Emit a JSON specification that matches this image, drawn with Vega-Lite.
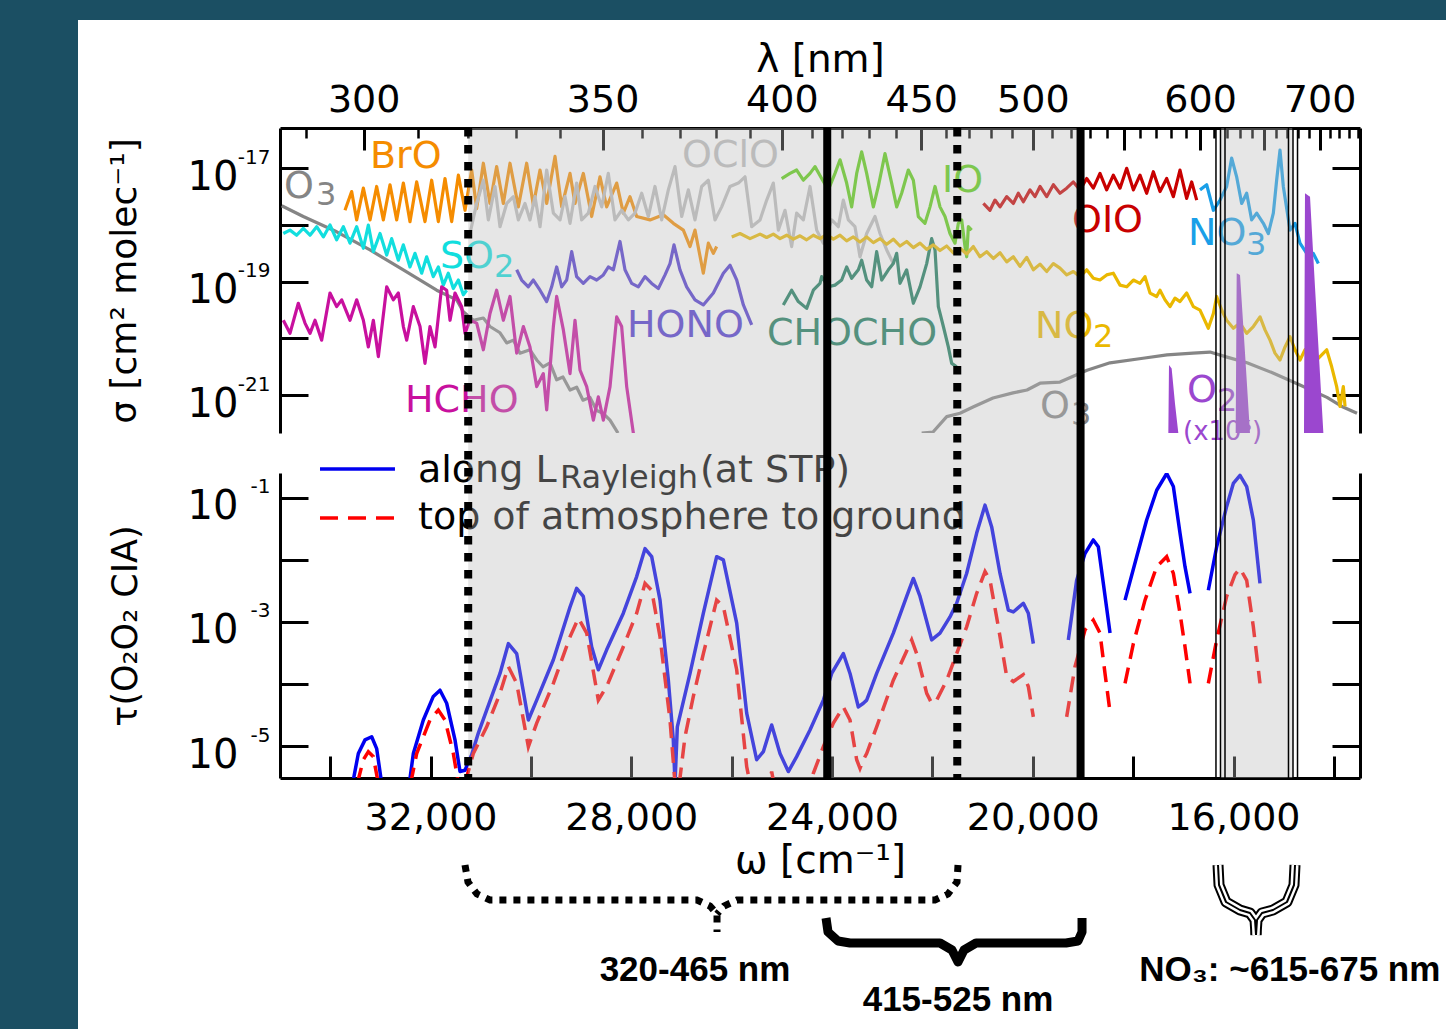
{
"$schema": "https://vega.github.io/schema/vega-lite/v6.json",
"background": "white",
"padding": 0,
"spacing": 0,
"bounds": "flush",
"config": {
  "view": {"stroke": null},
  "axis": {"grid": false, "labelFont": "DejaVu Sans", "titleFont": "DejaVu Sans", "labelColor": "#000", "titleColor": "#000", "tickColor": "#000", "domainColor": "#000", "tickWidth": 3, "domainWidth": 3, "titleFontWeight": "normal", "labelOverlap": false, "labelFlush": false, "labelBound": false, "labelFontSize": 38, "titleFontSize": 39},
  "text": {"font": "DejaVu Sans"}
},
"datasets": {
  "sigma": [
    {"sp":"O3","part":"a","w":34966,"ls":-17.66},{"sp":"O3","part":"a","w":34536,"ls":-17.85},{"sp":"O3","part":"a","w":33870,"ls":-18.12},{"sp":"O3","part":"a","w":33207,"ls":-18.44},{"sp":"O3","part":"a","w":32543,"ls":-18.79},{"sp":"O3","part":"a","w":31878,"ls":-19.15},{"sp":"O3","part":"a","w":31479,"ls":-19.32},{"sp":"O3","part":"a","w":31347,"ls":-19.53},{"sp":"O3","part":"a","w":31148,"ls":-19.68},{"sp":"O3","part":"a","w":30949,"ls":-19.64},{"sp":"O3","part":"a","w":30816,"ls":-19.79},{"sp":"O3","part":"a","w":30616,"ls":-19.90},{"sp":"O3","part":"a","w":30483,"ls":-20.08},{"sp":"O3","part":"a","w":30351,"ls":-20.03},{"sp":"O3","part":"a","w":30218,"ls":-20.26},{"sp":"O3","part":"a","w":30019,"ls":-20.20},{"sp":"O3","part":"a","w":29885,"ls":-20.38},{"sp":"O3","part":"a","w":29760,"ls":-20.50},{"sp":"O3","part":"a","w":29620,"ls":-20.43},{"sp":"O3","part":"a","w":29487,"ls":-20.73},{"sp":"O3","part":"a","w":29362,"ls":-20.68},{"sp":"O3","part":"a","w":29221,"ls":-20.91},{"sp":"O3","part":"a","w":29088,"ls":-20.86},{"sp":"O3","part":"a","w":28962,"ls":-21.09},{"sp":"O3","part":"a","w":28823,"ls":-21.04},{"sp":"O3","part":"a","w":28690,"ls":-21.27},{"sp":"O3","part":"a","w":28565,"ls":-21.32},{"sp":"O3","part":"a","w":28424,"ls":-21.44},{"sp":"O3","part":"a","w":28265,"ls":-21.67},
    {"sp":"O3","part":"b","w":22214,"ls":-21.67},{"sp":"O3","part":"b","w":21988,"ls":-21.65},{"sp":"O3","part":"b","w":21715,"ls":-21.38},{"sp":"O3","part":"b","w":21450,"ls":-21.32},{"sp":"O3","part":"b","w":21191,"ls":-21.21},{"sp":"O3","part":"b","w":20793,"ls":-21.05},{"sp":"O3","part":"b","w":20394,"ls":-20.96},{"sp":"O3","part":"b","w":20115,"ls":-20.91},{"sp":"O3","part":"b","w":19856,"ls":-20.79},{"sp":"O3","part":"b","w":19458,"ls":-20.77},{"sp":"O3","part":"b","w":18920,"ls":-20.56},{"sp":"O3","part":"b","w":18461,"ls":-20.43},{"sp":"O3","part":"b","w":17804,"ls":-20.35},{"sp":"O3","part":"b","w":17326,"ls":-20.29},{"sp":"O3","part":"b","w":16808,"ls":-20.26},{"sp":"O3","part":"b","w":16469,"ls":-20.24},{"sp":"O3","part":"b","w":16130,"ls":-20.33},{"sp":"O3","part":"b","w":15732,"ls":-20.43},{"sp":"O3","part":"b","w":15214,"ls":-20.61},{"sp":"O3","part":"b","w":14676,"ls":-20.82},{"sp":"O3","part":"b","w":14138,"ls":-21.04},{"sp":"O3","part":"b","w":13818,"ls":-21.21},{"sp":"O3","part":"b","w":13540,"ls":-21.32},
    {"sp":"BrO","w":33705,"ls":-17.74},{"sp":"BrO","w":33572,"ls":-17.41},{"sp":"BrO","w":33472,"ls":-17.91},{"sp":"BrO","w":33339,"ls":-17.35},{"sp":"BrO","w":33206,"ls":-17.91},{"sp":"BrO","w":33074,"ls":-17.32},{"sp":"BrO","w":32941,"ls":-17.91},{"sp":"BrO","w":32808,"ls":-17.29},{"sp":"BrO","w":32675,"ls":-17.91},{"sp":"BrO","w":32542,"ls":-17.26},{"sp":"BrO","w":32410,"ls":-17.94},{"sp":"BrO","w":32277,"ls":-17.24},{"sp":"BrO","w":32111,"ls":-17.94},{"sp":"BrO","w":31978,"ls":-17.21},{"sp":"BrO","w":31845,"ls":-17.94},{"sp":"BrO","w":31712,"ls":-17.18},{"sp":"BrO","w":31579,"ls":-17.94},{"sp":"BrO","w":31446,"ls":-17.12},{"sp":"BrO","w":31313,"ls":-17.74},{"sp":"BrO","w":31181,"ls":-17.03},{"sp":"BrO","w":31081,"ls":-17.71},{"sp":"BrO","w":30948,"ls":-16.91},{"sp":"BrO","w":30816,"ls":-17.62},{"sp":"BrO","w":30683,"ls":-16.97},{"sp":"BrO","w":30550,"ls":-17.62},{"sp":"BrO","w":30417,"ls":-16.91},{"sp":"BrO","w":30251,"ls":-17.68},{"sp":"BrO","w":30085,"ls":-16.91},{"sp":"BrO","w":29952,"ls":-17.65},{"sp":"BrO","w":29819,"ls":-17.03},{"sp":"BrO","w":29686,"ls":-17.62},{"sp":"BrO","w":29520,"ls":-16.79},{"sp":"BrO","w":29387,"ls":-17.68},{"sp":"BrO","w":29221,"ls":-17.09},{"sp":"BrO","w":29122,"ls":-17.62},{"sp":"BrO","w":28956,"ls":-17.09},{"sp":"BrO","w":28790,"ls":-17.85},{"sp":"BrO","w":28624,"ls":-17.15},{"sp":"BrO","w":28491,"ls":-17.68},{"sp":"BrO","w":28291,"ls":-17.26},{"sp":"BrO","w":28159,"ls":-17.79},{"sp":"BrO","w":28026,"ls":-17.50},{"sp":"BrO","w":27893,"ls":-17.85},{"sp":"BrO","w":27627,"ls":-17.91},{"sp":"BrO","w":27361,"ls":-17.82},{"sp":"BrO","w":27162,"ls":-17.97},{"sp":"BrO","w":26963,"ls":-18.09},{"sp":"BrO","w":26830,"ls":-18.38},{"sp":"BrO","w":26731,"ls":-18.09},{"sp":"BrO","w":26565,"ls":-18.85},{"sp":"BrO","w":26465,"ls":-18.32},{"sp":"BrO","w":26365,"ls":-18.50},{"sp":"BrO","w":26299,"ls":-18.38},
    {"sp":"SO2","w":34934,"ls":-18.15},{"sp":"SO2","w":34801,"ls":-18.09},{"sp":"SO2","w":34668,"ls":-18.18},{"sp":"SO2","w":34535,"ls":-18.06},{"sp":"SO2","w":34402,"ls":-18.18},{"sp":"SO2","w":34269,"ls":-18.03},{"sp":"SO2","w":34136,"ls":-18.21},{"sp":"SO2","w":34004,"ls":-18.00},{"sp":"SO2","w":33871,"ls":-18.26},{"sp":"SO2","w":33738,"ls":-18.03},{"sp":"SO2","w":33605,"ls":-18.32},{"sp":"SO2","w":33472,"ls":-18.03},{"sp":"SO2","w":33339,"ls":-18.41},{"sp":"SO2","w":33240,"ls":-18.00},{"sp":"SO2","w":33140,"ls":-18.47},{"sp":"SO2","w":33007,"ls":-18.15},{"sp":"SO2","w":32874,"ls":-18.53},{"sp":"SO2","w":32775,"ls":-18.24},{"sp":"SO2","w":32642,"ls":-18.62},{"sp":"SO2","w":32542,"ls":-18.35},{"sp":"SO2","w":32410,"ls":-18.74},{"sp":"SO2","w":32310,"ls":-18.50},{"sp":"SO2","w":32177,"ls":-18.85},{"sp":"SO2","w":32078,"ls":-18.56},{"sp":"SO2","w":31945,"ls":-18.91},{"sp":"SO2","w":31845,"ls":-18.74},{"sp":"SO2","w":31745,"ls":-19.06},{"sp":"SO2","w":31646,"ls":-18.85},{"sp":"SO2","w":31546,"ls":-19.12},{"sp":"SO2","w":31446,"ls":-18.97},{"sp":"SO2","w":31347,"ls":-19.23},{"sp":"SO2","w":31280,"ls":-19.15},
    {"sp":"HCHO","w":34934,"ls":-19.68},{"sp":"HCHO","w":34801,"ls":-19.91},{"sp":"HCHO","w":34635,"ls":-19.38},{"sp":"HCHO","w":34502,"ls":-19.73},{"sp":"HCHO","w":34402,"ls":-19.91},{"sp":"HCHO","w":34302,"ls":-19.68},{"sp":"HCHO","w":34170,"ls":-20.03},{"sp":"HCHO","w":34004,"ls":-19.20},{"sp":"HCHO","w":33871,"ls":-19.44},{"sp":"HCHO","w":33771,"ls":-19.32},{"sp":"HCHO","w":33605,"ls":-19.68},{"sp":"HCHO","w":33472,"ls":-19.32},{"sp":"HCHO","w":33339,"ls":-19.68},{"sp":"HCHO","w":33240,"ls":-20.15},{"sp":"HCHO","w":33140,"ls":-19.68},{"sp":"HCHO","w":33040,"ls":-20.32},{"sp":"HCHO","w":32874,"ls":-19.09},{"sp":"HCHO","w":32742,"ls":-19.32},{"sp":"HCHO","w":32642,"ls":-19.20},{"sp":"HCHO","w":32542,"ls":-19.79},{"sp":"HCHO","w":32476,"ls":-20.03},{"sp":"HCHO","w":32343,"ls":-19.44},{"sp":"HCHO","w":32210,"ls":-19.79},{"sp":"HCHO","w":32111,"ls":-20.44},{"sp":"HCHO","w":32011,"ls":-19.79},{"sp":"HCHO","w":31911,"ls":-20.15},{"sp":"HCHO","w":31779,"ls":-19.09},{"sp":"HCHO","w":31679,"ls":-19.15},{"sp":"HCHO","w":31612,"ls":-19.68},{"sp":"HCHO","w":31513,"ls":-19.20},{"sp":"HCHO","w":31380,"ls":-19.44},{"sp":"HCHO","w":31314,"ls":-19.91},{"sp":"HCHO","w":31214,"ls":-19.68},{"sp":"HCHO","w":31081,"ls":-19.73},{"sp":"HCHO","w":30948,"ls":-20.20},{"sp":"HCHO","w":30816,"ls":-19.56},{"sp":"HCHO","w":30683,"ls":-19.15},{"sp":"HCHO","w":30550,"ls":-19.68},{"sp":"HCHO","w":30417,"ls":-19.26},{"sp":"HCHO","w":30284,"ls":-20.26},{"sp":"HCHO","w":30151,"ls":-19.79},{"sp":"HCHO","w":30019,"ls":-20.15},{"sp":"HCHO","w":29885,"ls":-20.85},{"sp":"HCHO","w":29753,"ls":-20.62},{"sp":"HCHO","w":29686,"ls":-21.26},{"sp":"HCHO","w":29553,"ls":-19.79},{"sp":"HCHO","w":29487,"ls":-19.26},{"sp":"HCHO","w":29354,"ls":-19.85},{"sp":"HCHO","w":29221,"ls":-20.62},{"sp":"HCHO","w":29122,"ls":-19.68},{"sp":"HCHO","w":29022,"ls":-20.56},{"sp":"HCHO","w":28889,"ls":-20.85},{"sp":"HCHO","w":28756,"ls":-21.44},{"sp":"HCHO","w":28657,"ls":-21.03},{"sp":"HCHO","w":28557,"ls":-21.44},{"sp":"HCHO","w":28424,"ls":-20.85},{"sp":"HCHO","w":28291,"ls":-19.62},{"sp":"HCHO","w":28192,"ls":-19.79},{"sp":"HCHO","w":28092,"ls":-20.85},{"sp":"HCHO","w":27959,"ls":-21.67},
    {"sp":"OClO","w":31214,"ls":-18.15},{"sp":"OClO","w":31081,"ls":-17.62},{"sp":"OClO","w":30948,"ls":-17.21},{"sp":"OClO","w":30849,"ls":-17.91},{"sp":"OClO","w":30716,"ls":-17.32},{"sp":"OClO","w":30616,"ls":-18.03},{"sp":"OClO","w":30483,"ls":-17.62},{"sp":"OClO","w":30350,"ls":-17.50},{"sp":"OClO","w":30251,"ls":-17.91},{"sp":"OClO","w":30118,"ls":-17.62},{"sp":"OClO","w":30019,"ls":-17.91},{"sp":"OClO","w":29919,"ls":-17.50},{"sp":"OClO","w":29819,"ls":-18.03},{"sp":"OClO","w":29686,"ls":-17.03},{"sp":"OClO","w":29553,"ls":-17.79},{"sp":"OClO","w":29420,"ls":-17.91},{"sp":"OClO","w":29321,"ls":-17.50},{"sp":"OClO","w":29221,"ls":-17.97},{"sp":"OClO","w":29089,"ls":-17.26},{"sp":"OClO","w":28989,"ls":-17.91},{"sp":"OClO","w":28856,"ls":-17.79},{"sp":"OClO","w":28723,"ls":-17.32},{"sp":"OClO","w":28590,"ls":-17.68},{"sp":"OClO","w":28458,"ls":-17.09},{"sp":"OClO","w":28325,"ls":-17.91},{"sp":"OClO","w":28192,"ls":-17.74},{"sp":"OClO","w":28059,"ls":-17.91},{"sp":"OClO","w":27926,"ls":-17.79},{"sp":"OClO","w":27793,"ls":-17.44},{"sp":"OClO","w":27660,"ls":-17.85},{"sp":"OClO","w":27528,"ls":-17.32},{"sp":"OClO","w":27395,"ls":-17.91},{"sp":"OClO","w":27262,"ls":-17.38},{"sp":"OClO","w":27129,"ls":-16.97},{"sp":"OClO","w":26996,"ls":-17.85},{"sp":"OClO","w":26863,"ls":-17.38},{"sp":"OClO","w":26731,"ls":-17.91},{"sp":"OClO","w":26598,"ls":-17.32},{"sp":"OClO","w":26465,"ls":-17.21},{"sp":"OClO","w":26332,"ls":-17.91},{"sp":"OClO","w":26199,"ls":-17.68},{"sp":"OClO","w":26033,"ls":-17.32},{"sp":"OClO","w":25867,"ls":-17.26},{"sp":"OClO","w":25734,"ls":-17.15},{"sp":"OClO","w":25601,"ls":-18.03},{"sp":"OClO","w":25435,"ls":-17.91},{"sp":"OClO","w":25302,"ls":-17.56},{"sp":"OClO","w":25170,"ls":-17.26},{"sp":"OClO","w":25070,"ls":-18.09},{"sp":"OClO","w":24937,"ls":-17.74},{"sp":"OClO","w":24805,"ls":-18.38},{"sp":"OClO","w":24705,"ls":-17.79},{"sp":"OClO","w":24572,"ls":-17.91},{"sp":"OClO","w":24439,"ls":-17.32},{"sp":"OClO","w":24306,"ls":-18.09},{"sp":"OClO","w":24173,"ls":-18.32},{"sp":"OClO","w":24007,"ls":-17.91},{"sp":"OClO","w":23875,"ls":-18.03},{"sp":"OClO","w":23775,"ls":-17.56},{"sp":"OClO","w":23675,"ls":-17.91},{"sp":"OClO","w":23543,"ls":-18.03},{"sp":"OClO","w":23443,"ls":-18.56},{"sp":"OClO","w":23310,"ls":-18.15},{"sp":"OClO","w":23144,"ls":-17.85},{"sp":"OClO","w":23044,"ls":-18.15},{"sp":"OClO","w":22911,"ls":-18.44},{"sp":"OClO","w":22779,"ls":-18.68},
    {"sp":"HONO","w":30284,"ls":-18.79},{"sp":"HONO","w":30185,"ls":-18.97},{"sp":"HONO","w":30052,"ls":-19.09},{"sp":"HONO","w":29952,"ls":-18.97},{"sp":"HONO","w":29819,"ls":-19.15},{"sp":"HONO","w":29686,"ls":-19.35},{"sp":"HONO","w":29587,"ls":-19.09},{"sp":"HONO","w":29487,"ls":-18.74},{"sp":"HONO","w":29387,"ls":-19.09},{"sp":"HONO","w":29288,"ls":-18.97},{"sp":"HONO","w":29188,"ls":-18.47},{"sp":"HONO","w":29089,"ls":-18.91},{"sp":"HONO","w":28956,"ls":-19.03},{"sp":"HONO","w":28823,"ls":-18.91},{"sp":"HONO","w":28690,"ls":-18.97},{"sp":"HONO","w":28557,"ls":-18.88},{"sp":"HONO","w":28458,"ls":-18.74},{"sp":"HONO","w":28358,"ls":-18.79},{"sp":"HONO","w":28225,"ls":-18.29},{"sp":"HONO","w":28126,"ls":-18.79},{"sp":"HONO","w":27993,"ls":-19.03},{"sp":"HONO","w":27860,"ls":-19.09},{"sp":"HONO","w":27727,"ls":-18.91},{"sp":"HONO","w":27594,"ls":-19.03},{"sp":"HONO","w":27461,"ls":-19.12},{"sp":"HONO","w":27328,"ls":-18.88},{"sp":"HONO","w":27229,"ls":-18.68},{"sp":"HONO","w":27149,"ls":-18.35},{"sp":"HONO","w":27030,"ls":-18.79},{"sp":"HONO","w":26897,"ls":-19.09},{"sp":"HONO","w":26731,"ls":-19.32},{"sp":"HONO","w":26565,"ls":-19.41},{"sp":"HONO","w":26365,"ls":-19.20},{"sp":"HONO","w":26166,"ls":-18.85},{"sp":"HONO","w":26033,"ls":-18.71},{"sp":"HONO","w":25900,"ls":-18.97},{"sp":"HONO","w":25767,"ls":-19.41},{"sp":"HONO","w":25601,"ls":-19.76},
    {"sp":"IO","w":25004,"ls":-17.18},{"sp":"IO","w":24838,"ls":-17.09},{"sp":"IO","w":24705,"ls":-17.03},{"sp":"IO","w":24572,"ls":-17.21},{"sp":"IO","w":24439,"ls":-17.09},{"sp":"IO","w":24340,"ls":-16.97},{"sp":"IO","w":24207,"ls":-17.18},{"sp":"IO","w":24074,"ls":-17.38},{"sp":"IO","w":23941,"ls":-17.09},{"sp":"IO","w":23841,"ls":-16.85},{"sp":"IO","w":23709,"ls":-17.26},{"sp":"IO","w":23609,"ls":-17.68},{"sp":"IO","w":23509,"ls":-17.09},{"sp":"IO","w":23410,"ls":-16.71},{"sp":"IO","w":23310,"ls":-17.09},{"sp":"IO","w":23177,"ls":-17.68},{"sp":"IO","w":23078,"ls":-17.32},{"sp":"IO","w":22945,"ls":-16.74},{"sp":"IO","w":22812,"ls":-17.26},{"sp":"IO","w":22712,"ls":-17.68},{"sp":"IO","w":22613,"ls":-17.44},{"sp":"IO","w":22480,"ls":-17.03},{"sp":"IO","w":22380,"ls":-17.21},{"sp":"IO","w":22281,"ls":-17.85},{"sp":"IO","w":22148,"ls":-17.97},{"sp":"IO","w":22048,"ls":-17.68},{"sp":"IO","w":21948,"ls":-17.32},{"sp":"IO","w":21849,"ls":-17.68},{"sp":"IO","w":21749,"ls":-17.85},{"sp":"IO","w":21650,"ls":-18.15},{"sp":"IO","w":21550,"ls":-18.32},{"sp":"IO","w":21483,"ls":-17.97},{"sp":"IO","w":21417,"ls":-17.91},{"sp":"IO","w":21351,"ls":-18.38},{"sp":"IO","w":21317,"ls":-18.56},{"sp":"IO","w":21284,"ls":-18.03},{"sp":"IO","w":21218,"ls":-18.09},
    {"sp":"CHOCHO","w":24971,"ls":-19.41},{"sp":"CHOCHO","w":24805,"ls":-19.15},{"sp":"CHOCHO","w":24672,"ls":-19.35},{"sp":"CHOCHO","w":24506,"ls":-19.47},{"sp":"CHOCHO","w":24373,"ls":-19.15},{"sp":"CHOCHO","w":24240,"ls":-19.03},{"sp":"CHOCHO","w":24207,"ls":-18.91},{"sp":"CHOCHO","w":24074,"ls":-19.09},{"sp":"CHOCHO","w":23941,"ls":-19.06},{"sp":"CHOCHO","w":23808,"ls":-18.97},{"sp":"CHOCHO","w":23709,"ls":-18.74},{"sp":"CHOCHO","w":23609,"ls":-18.94},{"sp":"CHOCHO","w":23476,"ls":-18.79},{"sp":"CHOCHO","w":23410,"ls":-18.62},{"sp":"CHOCHO","w":23310,"ls":-18.97},{"sp":"CHOCHO","w":23210,"ls":-19.09},{"sp":"CHOCHO","w":23111,"ls":-18.47},{"sp":"CHOCHO","w":23011,"ls":-18.97},{"sp":"CHOCHO","w":22878,"ls":-18.79},{"sp":"CHOCHO","w":22779,"ls":-18.68},{"sp":"CHOCHO","w":22712,"ls":-18.50},{"sp":"CHOCHO","w":22646,"ls":-19.03},{"sp":"CHOCHO","w":22513,"ls":-18.79},{"sp":"CHOCHO","w":22380,"ls":-19.38},{"sp":"CHOCHO","w":22247,"ls":-19.09},{"sp":"CHOCHO","w":22114,"ls":-18.68},{"sp":"CHOCHO","w":22015,"ls":-18.24},{"sp":"CHOCHO","w":21948,"ls":-18.44},{"sp":"CHOCHO","w":21882,"ls":-19.44},{"sp":"CHOCHO","w":21782,"ls":-19.79},{"sp":"CHOCHO","w":21683,"ls":-20.15},{"sp":"CHOCHO","w":21616,"ls":-20.44},{"sp":"CHOCHO","w":21517,"ls":-20.50},
    {"sp":"NO2","w":25999,"ls":-18.21},{"sp":"NO2","w":25834,"ls":-18.15},{"sp":"NO2","w":25634,"ls":-18.24},{"sp":"NO2","w":25435,"ls":-18.16},{"sp":"NO2","w":25303,"ls":-18.22},{"sp":"NO2","w":25170,"ls":-18.16},{"sp":"NO2","w":25037,"ls":-18.24},{"sp":"NO2","w":24904,"ls":-18.18},{"sp":"NO2","w":24771,"ls":-18.25},{"sp":"NO2","w":24638,"ls":-18.19},{"sp":"NO2","w":24506,"ls":-18.26},{"sp":"NO2","w":24373,"ls":-18.18},{"sp":"NO2","w":24240,"ls":-18.24},{"sp":"NO2","w":24107,"ls":-18.17},{"sp":"NO2","w":23974,"ls":-18.25},{"sp":"NO2","w":23841,"ls":-18.18},{"sp":"NO2","w":23709,"ls":-18.28},{"sp":"NO2","w":23576,"ls":-18.21},{"sp":"NO2","w":23443,"ls":-18.30},{"sp":"NO2","w":23310,"ls":-18.21},{"sp":"NO2","w":23177,"ls":-18.31},{"sp":"NO2","w":23044,"ls":-18.24},{"sp":"NO2","w":22911,"ls":-18.34},{"sp":"NO2","w":22779,"ls":-18.25},{"sp":"NO2","w":22646,"ls":-18.37},{"sp":"NO2","w":22513,"ls":-18.29},{"sp":"NO2","w":22380,"ls":-18.40},{"sp":"NO2","w":22247,"ls":-18.32},{"sp":"NO2","w":22114,"ls":-18.43},{"sp":"NO2","w":21982,"ls":-18.35},{"sp":"NO2","w":21849,"ls":-18.45},{"sp":"NO2","w":21716,"ls":-18.37},{"sp":"NO2","w":21583,"ls":-18.49},{"sp":"NO2","w":21450,"ls":-18.41},{"sp":"NO2","w":21317,"ls":-18.51},{"sp":"NO2","w":21185,"ls":-18.38},{"sp":"NO2","w":21052,"ls":-18.56},{"sp":"NO2","w":20919,"ls":-18.47},{"sp":"NO2","w":20786,"ls":-18.59},{"sp":"NO2","w":20653,"ls":-18.49},{"sp":"NO2","w":20520,"ls":-18.65},{"sp":"NO2","w":20388,"ls":-18.56},{"sp":"NO2","w":20255,"ls":-18.73},{"sp":"NO2","w":20122,"ls":-18.57},{"sp":"NO2","w":19989,"ls":-18.79},{"sp":"NO2","w":19856,"ls":-18.69},{"sp":"NO2","w":19723,"ls":-18.82},{"sp":"NO2","w":19590,"ls":-18.68},{"sp":"NO2","w":19458,"ls":-18.76},{"sp":"NO2","w":19325,"ls":-18.88},{"sp":"NO2","w":19192,"ls":-18.82},{"sp":"NO2","w":19059,"ls":-18.91},{"sp":"NO2","w":18926,"ls":-18.79},{"sp":"NO2","w":18793,"ls":-18.94},{"sp":"NO2","w":18661,"ls":-18.97},{"sp":"NO2","w":18528,"ls":-18.88},{"sp":"NO2","w":18395,"ls":-18.85},{"sp":"NO2","w":18262,"ls":-19.06},{"sp":"NO2","w":18129,"ls":-19.09},{"sp":"NO2","w":17996,"ls":-18.97},{"sp":"NO2","w":17864,"ls":-19.03},{"sp":"NO2","w":17764,"ls":-18.91},{"sp":"NO2","w":17664,"ls":-19.20},{"sp":"NO2","w":17532,"ls":-19.26},{"sp":"NO2","w":17465,"ls":-19.15},{"sp":"NO2","w":17365,"ls":-19.32},{"sp":"NO2","w":17266,"ls":-19.44},{"sp":"NO2","w":17166,"ls":-19.29},{"sp":"NO2","w":17067,"ls":-19.35},{"sp":"NO2","w":16934,"ls":-19.20},{"sp":"NO2","w":16801,"ls":-19.44},{"sp":"NO2","w":16668,"ls":-19.50},{"sp":"NO2","w":16502,"ls":-19.82},{"sp":"NO2","w":16402,"ls":-19.56},{"sp":"NO2","w":16336,"ls":-19.26},{"sp":"NO2","w":16236,"ls":-19.50},{"sp":"NO2","w":16137,"ls":-19.68},{"sp":"NO2","w":16004,"ls":-19.82},{"sp":"NO2","w":15871,"ls":-19.73},{"sp":"NO2","w":15738,"ls":-19.91},{"sp":"NO2","w":15605,"ls":-19.79},{"sp":"NO2","w":15472,"ls":-19.62},{"sp":"NO2","w":15373,"ls":-19.85},{"sp":"NO2","w":15273,"ls":-20.03},{"sp":"NO2","w":15174,"ls":-20.26},{"sp":"NO2","w":15074,"ls":-20.38},{"sp":"NO2","w":14974,"ls":-20.15},{"sp":"NO2","w":14874,"ls":-19.97},{"sp":"NO2","w":14775,"ls":-20.20},{"sp":"NO2","w":14675,"ls":-20.38},{"sp":"NO2","w":14576,"ls":-20.20},{"sp":"NO2","w":14476,"ls":-20.26},{"sp":"NO2","w":14377,"ls":-20.41},{"sp":"NO2","w":14277,"ls":-20.32},{"sp":"NO2","w":14144,"ls":-20.20},{"sp":"NO2","w":14044,"ls":-20.50},{"sp":"NO2","w":13945,"ls":-20.85},{"sp":"NO2","w":13878,"ls":-21.20},{"sp":"NO2","w":13812,"ls":-20.85},{"sp":"NO2","w":13778,"ls":-21.20},
    {"sp":"OIO","w":20985,"ls":-17.62},{"sp":"OIO","w":20853,"ls":-17.74},{"sp":"OIO","w":20753,"ls":-17.56},{"sp":"OIO","w":20653,"ls":-17.68},{"sp":"OIO","w":20520,"ls":-17.50},{"sp":"OIO","w":20388,"ls":-17.62},{"sp":"OIO","w":20288,"ls":-17.44},{"sp":"OIO","w":20188,"ls":-17.59},{"sp":"OIO","w":20055,"ls":-17.38},{"sp":"OIO","w":19956,"ls":-17.50},{"sp":"OIO","w":19856,"ls":-17.32},{"sp":"OIO","w":19723,"ls":-17.50},{"sp":"OIO","w":19590,"ls":-17.29},{"sp":"OIO","w":19458,"ls":-17.44},{"sp":"OIO","w":19325,"ls":-17.35},{"sp":"OIO","w":19192,"ls":-17.24},{"sp":"OIO","w":19059,"ls":-17.38},{"sp":"OIO","w":18926,"ls":-17.18},{"sp":"OIO","w":18793,"ls":-17.35},{"sp":"OIO","w":18661,"ls":-17.09},{"sp":"OIO","w":18528,"ls":-17.38},{"sp":"OIO","w":18395,"ls":-17.12},{"sp":"OIO","w":18262,"ls":-17.35},{"sp":"OIO","w":18129,"ls":-17.00},{"sp":"OIO","w":17996,"ls":-17.38},{"sp":"OIO","w":17864,"ls":-17.12},{"sp":"OIO","w":17731,"ls":-17.44},{"sp":"OIO","w":17598,"ls":-17.06},{"sp":"OIO","w":17465,"ls":-17.41},{"sp":"OIO","w":17332,"ls":-17.18},{"sp":"OIO","w":17199,"ls":-17.50},{"sp":"OIO","w":17067,"ls":-17.03},{"sp":"OIO","w":16934,"ls":-17.53},{"sp":"OIO","w":16834,"ls":-17.24},{"sp":"OIO","w":16734,"ls":-17.56},
    {"sp":"NO3","w":16668,"ls":-17.38},{"sp":"NO3","w":16535,"ls":-17.29},{"sp":"NO3","w":16402,"ls":-17.74},{"sp":"NO3","w":16269,"ls":-17.56},{"sp":"NO3","w":16137,"ls":-17.32},{"sp":"NO3","w":16037,"ls":-16.82},{"sp":"NO3","w":15938,"ls":-17.15},{"sp":"NO3","w":15838,"ls":-17.62},{"sp":"NO3","w":15738,"ls":-17.44},{"sp":"NO3","w":15639,"ls":-17.91},{"sp":"NO3","w":15539,"ls":-17.79},{"sp":"NO3","w":15406,"ls":-17.97},{"sp":"NO3","w":15307,"ls":-18.15},{"sp":"NO3","w":15207,"ls":-17.79},{"sp":"NO3","w":15141,"ls":-17.21},{"sp":"NO3","w":15074,"ls":-16.68},{"sp":"NO3","w":15008,"ls":-17.32},{"sp":"NO3","w":14875,"ls":-18.09},{"sp":"NO3","w":14775,"ls":-17.97},{"sp":"NO3","w":14676,"ls":-18.32},{"sp":"NO3","w":14543,"ls":-18.50},{"sp":"NO3","w":14410,"ls":-18.50},{"sp":"NO3","w":14310,"ls":-18.68}
  ],
  "o2": [
    {"spike":1,"w":17299,"ls":-21.67},{"spike":1,"w":17286,"ls":-20.47},{"spike":1,"w":17233,"ls":-20.53},{"spike":1,"w":17166,"ls":-21.15},{"spike":1,"w":17100,"ls":-21.67},
    {"spike":2,"w":15957,"ls":-21.67},{"spike":2,"w":15937,"ls":-18.85},{"spike":2,"w":15871,"ls":-18.88},{"spike":2,"w":15771,"ls":-20.26},{"spike":2,"w":15672,"ls":-21.67},
    {"spike":3,"w":14596,"ls":-21.67},{"spike":3,"w":14576,"ls":-17.44},{"spike":3,"w":14476,"ls":-17.50},{"spike":3,"w":14377,"ls":-19.09},{"spike":3,"w":14210,"ls":-21.67}
  ],
  "siglab": [
    {"sp":"O3","t":"O","kind":"main","w":34920,"ls":-17.52},
    {"sp":"O3","t":"3","kind":"sub","w":34283,"ls":-17.65},
    {"sp":"BrO","t":"BrO","kind":"main","w":33207,"ls":-17.0},
    {"sp":"SO2","t":"SO","kind":"main","w":31812,"ls":-18.76},
    {"sp":"SO2","t":"2","kind":"sub","w":30736,"ls":-18.92},
    {"sp":"HCHO","t":"HCHO","kind":"main","w":32509,"ls":-21.30},
    {"sp":"OClO","t":"OClO","kind":"main","w":26990,"ls":-16.98},
    {"sp":"HONO","t":"HONO","kind":"main","w":28086,"ls":-19.98},
    {"sp":"IO","t":"IO","kind":"main","w":21809,"ls":-17.42},
    {"sp":"CHOCHO","t":"CHOCHO","kind":"main","w":25296,"ls":-20.12},
    {"sp":"NO2","t":"NO","kind":"main","w":19956,"ls":-20.0},
    {"sp":"NO2","t":"2","kind":"sub","w":18800,"ls":-20.15},
    {"sp":"O3","t":"O","kind":"main","w":19856,"ls":-21.40},
    {"sp":"O3","t":"3","kind":"sub","w":19239,"ls":-21.53},
    {"sp":"OIO","t":"OIO","kind":"main","w":19219,"ls":-18.12},
    {"sp":"NO3","t":"NO","kind":"main","w":16907,"ls":-18.35},
    {"sp":"NO3","t":"3","kind":"sub","w":15751,"ls":-18.53},
    {"sp":"O2","t":"O","kind":"main","w":16927,"ls":-21.12},
    {"sp":"O2","t":"2","kind":"sub","w":16330,"ls":-21.28},
    {"sp":"O2","t":"(x10⁵)","kind":"tiny","w":17007,"ls":-21.79}
  ],
  "bands": [{"a":31250,"b":19048},{"a":16260,"b":14815}],
  "tau": [
    {"p":"a","s":1,"w":33552,"lt":-5.6},{"p":"a","s":1,"w":33439,"lt":-5.12},{"p":"a","s":1,"w":33306,"lt":-4.90},{"p":"a","s":1,"w":33173,"lt":-4.85},{"p":"a","s":1,"w":33074,"lt":-5.04},{"p":"a","s":1,"w":32974,"lt":-5.6},
    {"p":"a","s":2,"w":32423,"lt":-5.6},{"p":"a","s":2,"w":32343,"lt":-5.12},{"p":"a","s":2,"w":32144,"lt":-4.58},{"p":"a","s":2,"w":31945,"lt":-4.20},{"p":"a","s":2,"w":31812,"lt":-4.10},{"p":"a","s":2,"w":31679,"lt":-4.31},{"p":"a","s":2,"w":31513,"lt":-4.90},{"p":"a","s":2,"w":31413,"lt":-5.41},{"p":"a","s":2,"w":31314,"lt":-5.39},{"p":"a","s":2,"w":31181,"lt":-5.14},{"p":"a","s":2,"w":31048,"lt":-4.79},{"p":"a","s":2,"w":30882,"lt":-4.42},{"p":"a","s":2,"w":30616,"lt":-3.83},{"p":"a","s":2,"w":30450,"lt":-3.35},{"p":"a","s":2,"w":30284,"lt":-3.51},{"p":"a","s":2,"w":30051,"lt":-4.58},{"p":"a","s":2,"w":29885,"lt":-4.26},{"p":"a","s":2,"w":29553,"lt":-3.61},{"p":"a","s":2,"w":29221,"lt":-2.76},{"p":"a","s":2,"w":29089,"lt":-2.46},{"p":"a","s":2,"w":28956,"lt":-2.59},{"p":"a","s":2,"w":28790,"lt":-3.40},{"p":"a","s":2,"w":28657,"lt":-3.77},{"p":"a","s":2,"w":28491,"lt":-3.45},{"p":"a","s":2,"w":28159,"lt":-2.86},{"p":"a","s":2,"w":27893,"lt":-2.27},{"p":"a","s":2,"w":27727,"lt":-1.82},{"p":"a","s":2,"w":27594,"lt":-1.95},{"p":"a","s":2,"w":27428,"lt":-2.65},{"p":"a","s":2,"w":27262,"lt":-3.94},{"p":"a","s":2,"w":27163,"lt":-4.90},{"p":"a","s":2,"w":27129,"lt":-5.6},{"p":"a","s":2,"w":27083,"lt":-4.69},{"p":"a","s":2,"w":26830,"lt":-3.83},{"p":"a","s":2,"w":26564,"lt":-2.86},{"p":"a","s":2,"w":26299,"lt":-1.95},{"p":"a","s":2,"w":26166,"lt":-2.0},{"p":"a","s":2,"w":25900,"lt":-3.02},{"p":"a","s":2,"w":25701,"lt":-4.47},{"p":"a","s":2,"w":25502,"lt":-5.22},{"p":"a","s":2,"w":25369,"lt":-5.09},{"p":"a","s":2,"w":25236,"lt":-4.74},{"p":"a","s":2,"w":25203,"lt":-4.66},{"p":"a","s":2,"w":25037,"lt":-5.12},{"p":"a","s":2,"w":24871,"lt":-5.41},{"p":"a","s":2,"w":24705,"lt":-5.17},{"p":"a","s":2,"w":24439,"lt":-4.74},{"p":"a","s":2,"w":24173,"lt":-4.26},{"p":"a","s":2,"w":24007,"lt":-3.83},{"p":"a","s":2,"w":23775,"lt":-3.51},{"p":"a","s":2,"w":23642,"lt":-3.83},{"p":"a","s":2,"w":23476,"lt":-4.37},{"p":"a","s":2,"w":23376,"lt":-4.31},{"p":"a","s":2,"w":23310,"lt":-4.26},{"p":"a","s":2,"w":23111,"lt":-3.83},{"p":"a","s":2,"w":22779,"lt":-3.18},{"p":"a","s":2,"w":22513,"lt":-2.59},{"p":"a","s":2,"w":22380,"lt":-2.30},{"p":"a","s":2,"w":22247,"lt":-2.59},{"p":"a","s":2,"w":22015,"lt":-3.29},{"p":"a","s":2,"w":21849,"lt":-3.18},{"p":"a","s":2,"w":21650,"lt":-2.92},{"p":"a","s":2,"w":21517,"lt":-2.70},{"p":"a","s":2,"w":21318,"lt":-2.22},{"p":"a","s":2,"w":21118,"lt":-1.57},{"p":"a","s":2,"w":20952,"lt":-1.12},{"p":"a","s":2,"w":20819,"lt":-1.47},{"p":"a","s":2,"w":20653,"lt":-2.22},{"p":"a","s":2,"w":20487,"lt":-2.81},{"p":"a","s":2,"w":20388,"lt":-2.84},{"p":"a","s":2,"w":20188,"lt":-2.70},{"p":"a","s":2,"w":20089,"lt":-2.86},{"p":"a","s":2,"w":19989,"lt":-3.35},
    {"p":"a","s":3,"w":19292,"lt":-3.29},{"p":"a","s":3,"w":19126,"lt":-2.33},{"p":"a","s":3,"w":18960,"lt":-1.90},{"p":"a","s":3,"w":18794,"lt":-1.68},{"p":"a","s":3,"w":18694,"lt":-1.79},{"p":"a","s":3,"w":18594,"lt":-2.38},{"p":"a","s":3,"w":18461,"lt":-3.18},
    {"p":"a","s":4,"w":18162,"lt":-2.65},{"p":"a","s":4,"w":17930,"lt":-1.95},{"p":"a","s":4,"w":17731,"lt":-1.36},{"p":"a","s":4,"w":17531,"lt":-0.88},{"p":"a","s":4,"w":17332,"lt":-0.61},{"p":"a","s":4,"w":17199,"lt":-0.82},{"p":"a","s":4,"w":17067,"lt":-1.57},{"p":"a","s":4,"w":16967,"lt":-2.11},{"p":"a","s":4,"w":16867,"lt":-2.54},
    {"p":"a","s":5,"w":16502,"lt":-2.49},{"p":"a","s":5,"w":16336,"lt":-1.79},{"p":"a","s":5,"w":16137,"lt":-1.14},{"p":"a","s":5,"w":16004,"lt":-0.77},{"p":"a","s":5,"w":15871,"lt":-0.64},{"p":"a","s":5,"w":15738,"lt":-0.82},{"p":"a","s":5,"w":15605,"lt":-1.36},{"p":"a","s":5,"w":15473,"lt":-2.38},
    {"p":"t","s":1,"w":33459,"lt":-5.6},{"p":"t","s":1,"w":33339,"lt":-5.22},{"p":"t","s":1,"w":33240,"lt":-5.09},{"p":"t","s":1,"w":33140,"lt":-5.17},{"p":"t","s":1,"w":33041,"lt":-5.6},
    {"p":"t","s":2,"w":32396,"lt":-5.6},{"p":"t","s":2,"w":32277,"lt":-5.12},{"p":"t","s":2,"w":32011,"lt":-4.58},{"p":"t","s":2,"w":31845,"lt":-4.42},{"p":"t","s":2,"w":31712,"lt":-4.58},{"p":"t","s":2,"w":31546,"lt":-5.12},{"p":"t","s":2,"w":31446,"lt":-5.6},
    {"p":"t","s":3,"w":31314,"lt":-5.6},{"p":"t","s":3,"w":31148,"lt":-5.12},{"p":"t","s":3,"w":30882,"lt":-4.69},{"p":"t","s":3,"w":30616,"lt":-4.15},{"p":"t","s":3,"w":30450,"lt":-3.72},{"p":"t","s":3,"w":30284,"lt":-3.99},{"p":"t","s":3,"w":30051,"lt":-5.01},{"p":"t","s":3,"w":29885,"lt":-4.63},{"p":"t","s":3,"w":29553,"lt":-3.99},{"p":"t","s":3,"w":29221,"lt":-3.24},{"p":"t","s":3,"w":29055,"lt":-2.94},{"p":"t","s":3,"w":28889,"lt":-3.18},{"p":"t","s":3,"w":28657,"lt":-4.26},{"p":"t","s":3,"w":28491,"lt":-4.04},{"p":"t","s":3,"w":28159,"lt":-3.40},{"p":"t","s":3,"w":27893,"lt":-2.86},{"p":"t","s":3,"w":27727,"lt":-2.38},{"p":"t","s":3,"w":27594,"lt":-2.49},{"p":"t","s":3,"w":27428,"lt":-3.24},{"p":"t","s":3,"w":27229,"lt":-4.58},{"p":"t","s":3,"w":27129,"lt":-5.6},
    {"p":"t","s":4,"w":27043,"lt":-5.6},{"p":"t","s":4,"w":26930,"lt":-4.85},{"p":"t","s":4,"w":26764,"lt":-4.20},{"p":"t","s":4,"w":26564,"lt":-3.51},{"p":"t","s":4,"w":26299,"lt":-2.65},{"p":"t","s":4,"w":26166,"lt":-2.75},{"p":"t","s":4,"w":25900,"lt":-3.77},{"p":"t","s":4,"w":25701,"lt":-5.33},{"p":"t","s":4,"w":25634,"lt":-5.6},
    {"p":"t","s":5,"w":25303,"lt":-5.84},{"p":"t","s":5,"w":25203,"lt":-5.41},{"p":"t","s":5,"w":25103,"lt":-5.84},
    {"p":"t","s":6,"w":24506,"lt":-5.84},{"p":"t","s":6,"w":24373,"lt":-5.44},{"p":"t","s":6,"w":24173,"lt":-5.01},{"p":"t","s":6,"w":23974,"lt":-4.63},{"p":"t","s":6,"w":23775,"lt":-4.37},{"p":"t","s":6,"w":23642,"lt":-4.58},{"p":"t","s":6,"w":23509,"lt":-5.22},{"p":"t","s":6,"w":23443,"lt":-5.36},{"p":"t","s":6,"w":23376,"lt":-5.22},{"p":"t","s":6,"w":23310,"lt":-5.12},{"p":"t","s":6,"w":23111,"lt":-4.69},{"p":"t","s":6,"w":22779,"lt":-3.94},{"p":"t","s":6,"w":22413,"lt":-3.29},{"p":"t","s":6,"w":22314,"lt":-3.51},{"p":"t","s":6,"w":22114,"lt":-4.15},{"p":"t","s":6,"w":22015,"lt":-4.31},{"p":"t","s":6,"w":21915,"lt":-4.26},{"p":"t","s":6,"w":21716,"lt":-3.94},{"p":"t","s":6,"w":21517,"lt":-3.51},{"p":"t","s":6,"w":21318,"lt":-3.08},{"p":"t","s":6,"w":21118,"lt":-2.54},{"p":"t","s":6,"w":20952,"lt":-2.19},{"p":"t","s":6,"w":20852,"lt":-2.33},{"p":"t","s":6,"w":20686,"lt":-3.08},{"p":"t","s":6,"w":20520,"lt":-3.88},{"p":"t","s":6,"w":20388,"lt":-3.96},{"p":"t","s":6,"w":20188,"lt":-3.85},{"p":"t","s":6,"w":20089,"lt":-4.04},{"p":"t","s":6,"w":19989,"lt":-4.53},
    {"p":"t","s":7,"w":19325,"lt":-4.53},{"p":"t","s":7,"w":19159,"lt":-3.72},{"p":"t","s":7,"w":18960,"lt":-3.13},{"p":"t","s":7,"w":18794,"lt":-2.97},{"p":"t","s":7,"w":18661,"lt":-3.18},{"p":"t","s":7,"w":18561,"lt":-3.83},{"p":"t","s":7,"w":18461,"lt":-4.45},
    {"p":"t","s":8,"w":18162,"lt":-3.99},{"p":"t","s":8,"w":17996,"lt":-3.35},{"p":"t","s":8,"w":17764,"lt":-2.65},{"p":"t","s":8,"w":17531,"lt":-2.11},{"p":"t","s":8,"w":17332,"lt":-1.95},{"p":"t","s":8,"w":17199,"lt":-2.22},{"p":"t","s":8,"w":17067,"lt":-2.86},{"p":"t","s":8,"w":16967,"lt":-3.40},{"p":"t","s":8,"w":16867,"lt":-3.99},
    {"p":"t","s":9,"w":16502,"lt":-3.99},{"p":"t","s":9,"w":16336,"lt":-3.29},{"p":"t","s":9,"w":16137,"lt":-2.59},{"p":"t","s":9,"w":15971,"lt":-2.24},{"p":"t","s":9,"w":15871,"lt":-2.14},{"p":"t","s":9,"w":15738,"lt":-2.33},{"p":"t","s":9,"w":15605,"lt":-3.08},{"p":"t","s":9,"w":15473,"lt":-3.99}
  ],
  "legrule": [{"p":"a","w1":34203,"w2":32709,"lt":-0.538},{"p":"t","w1":34203,"w2":32709,"lt":-1.327}],
  "legtext": [
    {"t":"along L","kind":"main","w":32250,"lt":-0.746},
    {"t":"Rayleigh","kind":"sub","w":29421,"lt":-0.85},
    {"t":"(at STP)","kind":"main","w":26631,"lt":-0.746},
    {"t":"top of atmosphere to ground","kind":"main","w":32250,"lt":-1.51}
  ],
  "brace": [
    {"b":"dot","h":1,"o":1,"w":31314,"v":87},{"b":"dot","h":1,"o":2,"w":31254,"v":104},{"b":"dot","h":1,"o":3,"w":31075,"v":116},{"b":"dot","h":1,"o":4,"w":30816,"v":122},{"b":"dot","h":1,"o":5,"w":26691,"v":122},{"b":"dot","h":1,"o":6,"w":26432,"v":128},{"b":"dot","h":1,"o":7,"w":26292,"v":136},{"b":"dot","h":1,"o":8,"w":26292,"v":154},
    {"b":"dot","h":2,"o":1,"w":21490,"v":87},{"b":"dot","h":2,"o":2,"w":21510,"v":104},{"b":"dot","h":2,"o":3,"w":21690,"v":116},{"b":"dot","h":2,"o":4,"w":21949,"v":122},{"b":"dot","h":2,"o":5,"w":25894,"v":122},{"b":"dot","h":2,"o":6,"w":26153,"v":128},{"b":"dot","h":2,"o":7,"w":26292,"v":136},
    {"b":"solid","h":3,"o":1,"w":24120,"v":140},{"b":"solid","h":3,"o":2,"w":24080,"v":154},{"b":"solid","h":3,"o":3,"w":23881,"v":163},{"b":"solid","h":3,"o":4,"w":23642,"v":165},{"b":"solid","h":3,"o":5,"w":21849,"v":165},{"b":"solid","h":3,"o":6,"w":21610,"v":172},{"b":"solid","h":3,"o":7,"w":21490,"v":184},{"b":"solid","h":3,"o":8,"w":21370,"v":172},{"b":"solid","h":3,"o":9,"w":21131,"v":165},{"b":"solid","h":3,"o":10,"w":19338,"v":165},{"b":"solid","h":3,"o":11,"w":19099,"v":163},{"b":"solid","h":3,"o":12,"w":19019,"v":154},{"b":"solid","h":3,"o":13,"w":19019,"v":140},
    {"b":"no3","h":4,"o":1,"w":16309,"v":87},{"b":"no3","h":4,"o":2,"w":16289,"v":107},{"b":"no3","h":4,"o":3,"w":16150,"v":124},{"b":"no3","h":4,"o":4,"w":15871,"v":132},{"b":"no3","h":4,"o":5,"w":15672,"v":135},{"b":"no3","h":4,"o":6,"w":15572,"v":142},{"b":"no3","h":4,"o":7,"w":15552,"v":157},
    {"b":"no3","h":5,"o":1,"w":14775,"v":87},{"b":"no3","h":5,"o":2,"w":14795,"v":107},{"b":"no3","h":5,"o":3,"w":14935,"v":124},{"b":"no3","h":5,"o":4,"w":15214,"v":132},{"b":"no3","h":5,"o":5,"w":15433,"v":135},{"b":"no3","h":5,"o":6,"w":15532,"v":142},{"b":"no3","h":5,"o":7,"w":15552,"v":157}
  ],
  "bracetext": [
    {"t":"320-465 nm","w":26731,"v":192},
    {"t":"415-525 nm","w":21490,"v":222},
    {"t":"NO₃: ~615-675 nm","w":14880,"v":192}
  ]
},
"vconcat": [
  {"width": 1446, "height": 20, "data": {"values": []}, "mark": "point", "view": {"fill": "#1b4f63", "stroke": null}},
  {
    "spacing": 202,
    "bounds": "flush",
    "hconcat": [
      {"width": 78, "height": 1009, "data": {"values": []}, "mark": "point", "view": {"fill": "#1b4f63", "stroke": null}},
      {
        "spacing": 0,
        "bounds": "flush",
        "vconcat": [
          {"width": 1080, "height": 108, "data": {"values": []}, "mark": "point"},
          {
            "width": 1080, "height": 305,
            "resolve": {"axis": {"x": "independent", "y": "independent"}},
            "layer": [
              {
                "data": {"name": "sigma"},
                "mark": {"type": "line", "strokeWidth": 3.2, "clip": true, "strokeJoin": "round"},
                "encoding": {
                  "x": {"field": "w", "type": "quantitative", "scale": {"domain": [35000, 13480], "nice": false, "zero": false},
                        "axis": {"orient": "top", "values": [33333.33, 28571.43, 25000, 22222.22, 20000, 18181.82, 16666.67, 15384.62, 14285.71],
                                 "labelExpr": "(round(1e7/datum.value) == 550 || round(1e7/datum.value) == 650) ? '' : '' + round(1e7/datum.value)",
                                 "tickSize": -22, "labelPadding": 31, "title": "λ [nm]", "titlePadding": 2}},
                  "y": {"field": "ls", "type": "quantitative", "scale": {"domain": [-21.668, -16.289], "nice": false, "zero": false},
                        "axis": {"orient": "left", "values": [-17, -18, -19, -20, -21], "labelExpr": "datum.value % 2 == 0 ? '' : '10'",
                                 "tickSize": -28, "labelPadding": 70, "labelOffset": 9, "labelBaseline": "middle", "labelFontSize": 40,
                                 "title": "σ [cm² molec⁻¹]", "titleFontSize": 36, "titlePadding": 44}},
                  "color": {"field": "sp", "type": "nominal", "legend": null,
                            "scale": {"domain": ["O3","BrO","SO2","HCHO","OClO","HONO","IO","CHOCHO","NO2","OIO","NO3","O2"],
                                      "range": ["#858585","#f58c00","#12dede","#c8109e","#bcbcbc","#5038d0","#5ccf10","#1a7a5c","#eab800","#c80000","#1a9fe8","#9b47cf"]}},
                  "detail": {"field": "part"}
                }
              },
              {
                "data": {"name": "o2"},
                "mark": {"type": "area", "color": "#9b47cf", "clip": true},
                "encoding": {
                  "x": {"field": "w", "type": "quantitative",
                        "axis": {"orient": "top", "values": [34482.8,33333.3,32258.1,31250,30303.0,29411.8,28571.4,27777.8,27027.0,26315.8,25641.0,25000,24390.2,23809.5,23255.8,22727.3,22222.2,21739.1,21276.6,20833.3,20408.2,20000,19607.8,19230.8,18867.9,18518.5,18181.8,17857.1,17543.9,17241.4,16949.2,16666.7,16393.4,16129.0,15873.0,15625,15384.6,15151.5,14925.4,14705.9,14492.8,14285.7,14084.5,13888.9,13698.6,13513.5],
                                 "tickSize": -10, "tickWidth": 2.5, "labels": false, "domain": false, "title": null}},
                  "y": {"field": "ls", "type": "quantitative",
                        "axis": {"orient": "right", "values": [-17, -18, -19, -20, -21], "tickSize": -28, "labels": false, "title": null}},
                  "y2": {"datum": -21.668},
                  "detail": {"field": "spike"}
                }
              },
              {
                "data": {"name": "siglab"},
                "mark": {"type": "text", "align": "left", "baseline": "alphabetic"},
                "encoding": {
                  "x": {"field": "w", "type": "quantitative", "axis": null},
                  "y": {"field": "ls", "type": "quantitative",
                        "axis": {"orient": "left", "values": [-17, -19, -21], "labelExpr": "'-' + (-datum.value)", "ticks": false, "domain": false,
                                 "labelPadding": 10, "labelOffset": -11, "labelFontSize": 20, "labelBaseline": "middle", "title": null}},
                  "text": {"field": "t"},
                  "color": {"field": "sp", "type": "nominal", "legend": null,
                            "scale": {"domain": ["O3","BrO","SO2","HCHO","OClO","HONO","IO","CHOCHO","NO2","OIO","NO3","O2"],
                                      "range": ["#858585","#f58c00","#12dede","#c8109e","#bcbcbc","#5038d0","#5ccf10","#1a7a5c","#eab800","#c80000","#1a9fe8","#9b47cf"]}},
                  "size": {"field": "kind", "type": "nominal", "legend": null, "scale": {"domain": ["main", "sub", "tiny"], "range": [38, 26, 14]}}
                }
              },
              {
                "data": {"name": "bands"},
                "mark": {"type": "rect", "color": "#bababa", "opacity": 0.365},
                "encoding": {
                  "x": {"field": "a", "type": "quantitative", "axis": null},
                  "x2": {"field": "b"},
                  "y": {"datum": -16.289, "type": "quantitative", "axis": null},
                  "y2": {"datum": -21.668}
                }
              }
            ]
          },
          {"width": 1080, "height": 40, "data": {"values": []}, "mark": "point"},
          {
            "width": 1080, "height": 305,
            "resolve": {"axis": {"x": "independent", "y": "independent"}},
            "layer": [
              {
                "data": {"name": "tau"},
                "transform": [{"filter": "datum.p == 'a'"}],
                "mark": {"type": "line", "strokeWidth": 3.5, "color": "#0000f0", "clip": true, "strokeJoin": "round"},
                "encoding": {
                  "x": {"field": "w", "type": "quantitative", "scale": {"domain": [35000, 13480], "nice": false, "zero": false},
                        "axis": {"orient": "bottom", "values": [34000, 32000, 30000, 28000, 26000, 24000, 22000, 20000, 18000, 16000, 14000],
                                 "labelExpr": "datum.value % 4000 == 0 ? format(datum.value, ',') : ''",
                                 "tickSize": -22, "labelPadding": 43, "title": "ω [cm⁻¹]", "titlePadding": 4}},
                  "y": {"field": "lt", "type": "quantitative", "scale": {"domain": [-5.514, -0.602], "nice": false, "zero": false},
                        "axis": {"orient": "left", "values": [-1, -2, -3, -4, -5], "labelExpr": "datum.value % 2 == 0 ? '' : '10'",
                                 "tickSize": -28, "labelPadding": 70, "labelOffset": 9, "labelBaseline": "middle", "labelFontSize": 40,
                                 "title": "τ(O₂O₂ CIA)", "titleFontSize": 35, "titlePadding": 44}},
                  "detail": {"field": "s"}
                }
              },
              {
                "data": {"name": "tau"},
                "transform": [{"filter": "datum.p == 't'"}],
                "mark": {"type": "line", "strokeWidth": 3.5, "color": "#ff0000", "strokeDash": [16, 9], "clip": true},
                "encoding": {
                  "x": {"field": "w", "type": "quantitative", "axis": null},
                  "y": {"field": "lt", "type": "quantitative",
                        "axis": {"orient": "right", "values": [-1, -2, -3, -4, -5], "tickSize": -28, "labels": false, "title": null}},
                  "detail": {"field": "s"}
                }
              },
              {
                "data": {"name": "legrule"},
                "transform": [{"filter": "datum.p == 'a'"}],
                "mark": {"type": "rule", "strokeWidth": 3.5, "color": "#0000f0"},
                "encoding": {
                  "x": {"field": "w1", "type": "quantitative", "axis": null},
                  "x2": {"field": "w2"},
                  "y": {"field": "lt", "type": "quantitative", "axis": null}
                }
              },
              {
                "data": {"name": "legrule"},
                "transform": [{"filter": "datum.p == 't'"}],
                "mark": {"type": "rule", "strokeWidth": 3.5, "color": "#ff0000", "strokeDash": [18, 10]},
                "encoding": {
                  "x": {"field": "w1", "type": "quantitative", "axis": null},
                  "x2": {"field": "w2"},
                  "y": {"field": "lt", "type": "quantitative", "axis": null}
                }
              },
              {
                "data": {"name": "legtext"},
                "mark": {"type": "text", "align": "left", "baseline": "alphabetic", "color": "#000"},
                "encoding": {
                  "x": {"field": "w", "type": "quantitative", "axis": null},
                  "y": {"field": "lt", "type": "quantitative",
                        "axis": {"orient": "left", "values": [-1, -3, -5], "labelExpr": "'-' + (-datum.value)", "ticks": false, "domain": false,
                                 "labelPadding": 10, "labelOffset": -11, "labelFontSize": 20, "labelBaseline": "middle", "title": null}},
                  "text": {"field": "t"},
                  "size": {"field": "kind", "type": "nominal", "legend": null, "scale": {"domain": ["main", "sub"], "range": [42, 21]}}
                }
              },
              {
                "data": {"name": "bands"},
                "mark": {"type": "rect", "color": "#bababa", "opacity": 0.365},
                "encoding": {
                  "x": {"field": "a", "type": "quantitative", "axis": null},
                  "x2": {"field": "b"},
                  "y": {"datum": 0.042, "type": "quantitative", "axis": null},
                  "y2": {"datum": -5.514}
                }
              },
              {
                "data": {"values": [{"w": 31250}, {"w": 21505}]},
                "mark": {"type": "rule", "strokeWidth": 8, "strokeDash": [8.5, 8.5], "color": "#000", "strokeCap": "butt"},
                "encoding": {
                  "x": {"field": "w", "type": "quantitative", "axis": null},
                  "y": {"datum": 4.953, "type": "quantitative", "axis": null},
                  "y2": {"datum": -5.514}
                }
              },
              {
                "data": {"values": [{"w": 24096}, {"w": 19048}]},
                "mark": {"type": "rule", "strokeWidth": 8, "color": "#000"},
                "encoding": {
                  "x": {"field": "w", "type": "quantitative", "axis": null},
                  "y": {"datum": 4.953, "type": "quantitative", "axis": null},
                  "y2": {"datum": -5.514}
                }
              },
              {
                "data": {"values": [{"w": 16350}, {"w": 16260}, {"w": 16170}, {"w": 14905}, {"w": 14815}, {"w": 14725}]},
                "mark": {"type": "rule", "strokeWidth": 1.5, "color": "#000"},
                "encoding": {
                  "x": {"field": "w", "type": "quantitative", "axis": null},
                  "y": {"datum": 4.953, "type": "quantitative", "axis": null},
                  "y2": {"datum": -5.514}
                }
              }
            ]
          },
          {
            "width": 1080, "height": 251,
            "layer": [
              {
                "data": {"name": "brace"},
                "transform": [{"filter": "datum.b == 'dot'"}],
                "mark": {"type": "line", "strokeWidth": 7, "strokeDash": [7, 7], "color": "#000", "strokeCap": "butt"},
                "encoding": {
                  "x": {"field": "w", "type": "quantitative", "scale": {"domain": [35000, 13480], "nice": false, "zero": false}, "axis": null},
                  "y": {"field": "v", "type": "quantitative", "scale": {"domain": [0, 251], "reverse": true, "nice": false, "zero": false}, "axis": null},
                  "order": {"field": "o"},
                  "detail": {"field": "h"}
                }
              },
              {
                "data": {"name": "brace"},
                "transform": [{"filter": "datum.b == 'solid'"}],
                "mark": {"type": "line", "strokeWidth": 9, "color": "#000", "strokeJoin": "round"},
                "encoding": {
                  "x": {"field": "w", "type": "quantitative", "axis": null},
                  "y": {"field": "v", "type": "quantitative", "axis": null},
                  "order": {"field": "o"},
                  "detail": {"field": "h"}
                }
              },
              {
                "data": {"name": "brace"},
                "transform": [{"filter": "datum.b == 'no3'"}],
                "mark": {"type": "line", "strokeWidth": 11, "color": "#000", "strokeJoin": "round"},
                "encoding": {
                  "x": {"field": "w", "type": "quantitative", "axis": null},
                  "y": {"field": "v", "type": "quantitative", "axis": null},
                  "order": {"field": "o"},
                  "detail": {"field": "h"}
                }
              },
              {
                "data": {"name": "brace"},
                "transform": [{"filter": "datum.b == 'no3'"}],
                "mark": {"type": "line", "strokeWidth": 7, "color": "#fff", "strokeJoin": "round"},
                "encoding": {
                  "x": {"field": "w", "type": "quantitative", "axis": null},
                  "y": {"field": "v", "type": "quantitative", "axis": null},
                  "order": {"field": "o"},
                  "detail": {"field": "h"}
                }
              },
              {
                "data": {"name": "brace"},
                "transform": [{"filter": "datum.b == 'no3'"}],
                "mark": {"type": "line", "strokeWidth": 2, "color": "#000", "strokeJoin": "round"},
                "encoding": {
                  "x": {"field": "w", "type": "quantitative", "axis": null},
                  "y": {"field": "v", "type": "quantitative", "axis": null},
                  "order": {"field": "o"},
                  "detail": {"field": "h"}
                }
              },
              {
                "data": {"name": "bracetext"},
                "mark": {"type": "text", "font": "Liberation Sans", "fontWeight": "bold", "fontSize": 35, "align": "center", "baseline": "middle", "color": "#000"},
                "encoding": {
                  "x": {"field": "w", "type": "quantitative", "axis": null},
                  "y": {"field": "v", "type": "quantitative", "axis": null},
                  "text": {"field": "t"}
                }
              }
            ]
          }
        ]
      }
    ]
  }
]
}
